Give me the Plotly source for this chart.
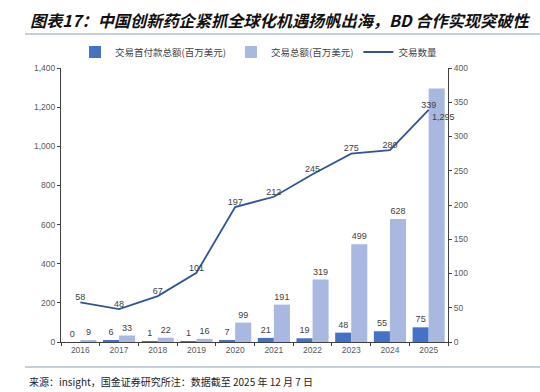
import plotly.graph_objects as go

years = ["2016", "2017", "2018", "2019", "2020", "2021", "2022", "2023", "2024", "2025"]
upfront = [0, 6, 1, 1, 7, 21, 19, 48, 55, 75]
total = [9, 33, 22, 16, 99, 191, 319, 499, 628, 1295]
deals = [58, 48, 67, 101, 197, 212, 245, 275, 280, 339]
left_ticks = [0, 200, 400, 600, 800, 1000, 1200, 1400]
right_ticks = [0, 50, 100, 150, 200, 250, 300, 350, 400]

W, H = 540, 392
L, R, T, B = 61, 92, 68, 50
pw = W - L - R
ph = H - T - B

def px2x(px):
    return (px - L) / pw

def py2y(py):
    return (H - B - py) / ph

DARK = "#4472C4"
LIGHT = "#A9B8E1"
LINE = "#2F5597"
TXT = "#404040"
FONT = "Noto Sans CJK SC"

fig = go.Figure()
fig.add_trace(go.Bar(
    x=years, y=upfront, name="交易首付款总额(百万美元)",
    marker=dict(color=DARK, line=dict(width=0)),
    text=[str(v) for v in upfront], textposition="outside",
    textfont=dict(size=9, color=TXT, family="Liberation Sans"),
    cliponaxis=False, yaxis="y",
))
tot_text = [f"{v:,}" for v in total]
tot_text[-1] = ""
fig.add_trace(go.Bar(
    x=years, y=total, name="交易总额(百万美元)",
    marker=dict(color=LIGHT, line=dict(width=0)),
    text=tot_text, textposition="outside",
    textfont=dict(size=9, color=TXT, family="Liberation Sans"),
    cliponaxis=False, yaxis="y",
))
fig.add_trace(go.Scatter(
    x=years, y=deals, name="交易数量", mode="lines+text",
    line=dict(color=LINE, width=1.8),
    text=[str(v) for v in deals], textposition="top center",
    textfont=dict(size=9, color=TXT, family="Liberation Sans"),
    cliponaxis=False, yaxis="y2",
))
fig.add_annotation(
    x=len(years) - 1, y=total[-1], xref="x", yref="y", text=f"{total[-1]:,}",
    showarrow=False, xshift=15, yshift=-28,
    font=dict(size=9, color=TXT, family="Liberation Sans"),
)

# title
fig.add_annotation(
    x=px2x(28), y=py2y(20), xref="paper", yref="paper", xanchor="left", yanchor="middle",
    text="<b><i>图表17：中国创新药企紧抓全球化机遇扬帆出海，BD 合作实现突破性</i></b>",
    showarrow=False, font=dict(size=16.2, color="#111111", family=FONT),
)
# source
fig.add_annotation(
    x=px2x(27), y=py2y(381), xref="paper", yref="paper", xanchor="left", yanchor="middle",
    text="来源：insight，国金证券研究所注：数据截至 2025 年 12 月 7 日",
    showarrow=False, font=dict(size=10, color="#222222", family=FONT),
)
for yy in (34, 367):
    fig.add_shape(type="line", xref="paper", yref="paper",
                  x0=px2x(25), x1=px2x(545), y0=py2y(yy), y1=py2y(yy),
                  line=dict(color="#C3D0DB", width=2))

fig.update_layout(
    width=W, height=H,
    margin=dict(l=L, r=R, t=T, b=B, autoexpand=False),
    paper_bgcolor="white", plot_bgcolor="white",
    barmode="group", bargap=0.17, bargroupgap=0,
    showlegend=True,
    legend=dict(orientation="h", x=px2x(75), xanchor="left", y=py2y(52), yanchor="middle",
                font=dict(size=9.5, color=TXT, family=FONT),
                itemwidth=30, traceorder="normal", tracegroupgap=0),
    xaxis=dict(type="category", range=[-0.5, len(years) - 0.5],
               showline=True, linecolor="#404040", linewidth=1,
               ticks="outside", tickson="boundaries", ticklen=3, tickcolor="#404040",
               tickfont=dict(size=8.5, color="#595959", family="Liberation Sans"),
               showgrid=False, zeroline=False),
    yaxis=dict(range=[0, 1400], tickvals=left_ticks, tickformat=",",
               showline=True, linecolor="#404040", linewidth=1,
               ticks="outside", ticklen=3, tickcolor="#404040",
               tickfont=dict(size=8.5, color="#595959", family="Liberation Sans"),
               showgrid=False, zeroline=False),
    yaxis2=dict(range=[0, 400], tickvals=right_ticks, overlaying="y", side="right",
                showline=True, linecolor="#404040", linewidth=1,
                ticks="outside", ticklen=3, tickcolor="#404040",
                tickfont=dict(size=8.5, color="#595959", family="Liberation Sans"),
                showgrid=False, zeroline=False),
)
fig.write_html("out.html", config={"displayModeBar": False},
               post_script="document.body.style.margin='0';document.body.style.overflow='hidden';")
